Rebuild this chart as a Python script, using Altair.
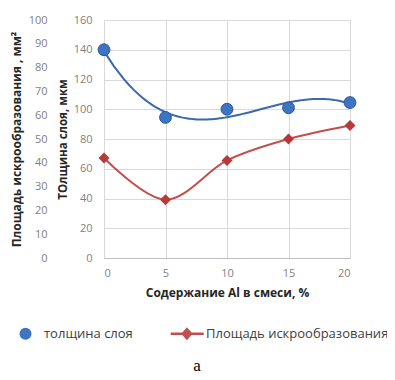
import altair as alt
import pandas as pd

# ---- data ----
al_pct = [0, 5, 10, 15, 20]
thickness_um = [140, 94.5, 100, 101, 104.5]
spark_area_mm2 = [42, 24.5, 41, 50, 55.7]
series_names = ["толщина слоя", "Площадь искрообразования"]
x_ticks = [0, 5, 10, 15, 20]
thick_ticks = [0, 20, 40, 60, 80, 100, 120, 140, 160]
area_ticks = [0, 10, 20, 30, 40, 50, 60, 70, 80, 90, 100]

df = pd.DataFrame({"al": al_pct, "thick": thickness_um, "area": spark_area_mm2})

FONT = "Open Sans"
BLUE = "#3D74C4"
BLUE_EDGE = "#2B5797"
BLUE_LINE = "#3A69B0"
RED = "#C0504D"
RED_DARK = "#B8393B"
GRID = "#D9D9D9"
LABEL = "#7F7F7F"

x_enc = alt.X(
    "al:Q",
    scale=alt.Scale(domain=[0, 20], nice=False),
    axis=alt.Axis(
        values=x_ticks, title="Содержание Al в смеси, %", grid=True, gridColor=GRID,
        domainColor="#BFBFBF", ticks=False, tickSize=0, labelPadding=9,
        labelFont=FONT, labelFontSize=11, labelColor=LABEL,
        titleFont=FONT, titleFontSize=12, titleFontWeight="bold", titleColor="#262626",
        titlePadding=9,
    ),
)

thick_y = alt.Y(
    "thick:Q",
    scale=alt.Scale(domain=[0, 160], nice=False),
    axis=alt.Axis(
        orient="left", values=thick_ticks, title="ТОлщина слоя, мкм", grid=True, gridColor=GRID,
        domain=False, ticks=False, tickSize=0, labelPadding=12,
        labelFont=FONT, labelFontSize=11, labelColor=LABEL,
        titleFont=FONT, titleFontSize=11.5, titleFontWeight="bold", titleColor="#262626",
        titlePadding=5,
    ),
)

area_y = alt.Y(
    "area:Q",
    scale=alt.Scale(domain=[0, 100], nice=False),
    axis=alt.Axis(
        orient="left", offset=50, values=area_ticks, title="Площадь искрообразования , мм²",
        grid=False, domain=False, ticks=False, tickSize=0, labelPadding=7,
        labelFont=FONT, labelFontSize=11, labelColor=LABEL,
        titleFont=FONT, titleFontSize=12, titleFontWeight="bold", titleColor="#262626",
        titlePadding=5,
    ),
)

base = alt.Chart(df)

trend = base.transform_regression(
    "al", "thick", method="poly", order=3, extent=[0, 20]
).mark_line(color=BLUE_LINE, strokeWidth=2).encode(x=x_enc, y=thick_y)

blue_pts = base.mark_point(
    filled=True, shape="circle", size=140, color=BLUE, stroke=BLUE_EDGE, strokeWidth=1, opacity=1
).encode(x=x_enc, y=thick_y)

red_line = base.mark_line(color=RED, strokeWidth=2, interpolate="cardinal").encode(x=x_enc, y=area_y)

red_pts = base.mark_point(
    filled=True, shape="diamond", size=120, color=RED_DARK, opacity=1
).encode(x=x_enc, y=area_y)

# legend only (draws nothing itself)
red_symbol = (
    "M-2.8,-0.2L2.7,-0.2L2.7,0.2L-2.8,0.2Z "
    "M-0.1,-1.1L0.85,0L-0.1,1.1L-1.05,0Z"
)
leg = alt.Legend(
    title=None, orient="none", direction="horizontal", legendX=-85, legendY=307,
    symbolSize=144, symbolStrokeWidth=0, symbolOpacity=1, labelOffset=12, columnPadding=37,
    labelFont=FONT, labelFontSize=13, labelColor="#404040", labelLimit=400,
)
legend_layer = base.transform_calculate(series='"толщина слоя"').transform_filter("false").mark_point(
    filled=True, opacity=1
).encode(
    x=x_enc,
    color=alt.Color("series:N", scale=alt.Scale(domain=series_names, range=[BLUE, RED]), legend=leg),
    shape=alt.Shape("series:N", scale=alt.Scale(domain=series_names, range=["circle", red_symbol]), legend=leg),
)

blue_layer = alt.layer(trend, blue_pts)
red_layer = alt.layer(red_line, red_pts)

chart = alt.layer(blue_layer, red_layer, legend_layer).resolve_scale(
    y="independent"
).properties(
    width=246,
    height=238,
    autosize=alt.AutoSizeParams(type="none"),
    padding={"left": 96, "top": 12, "right": 37, "bottom": 118},
    title=alt.TitleParams(
        text="a", orient="bottom", font="Liberation Serif", fontSize=17, fontWeight="normal",
        color="#000000", anchor="middle", frame="group", offset=17, dx=-30,
    ),
).configure_view(stroke=None).configure(background="white")

chart.save("out.html", embed_options={"renderer": "svg", "actions": False})
